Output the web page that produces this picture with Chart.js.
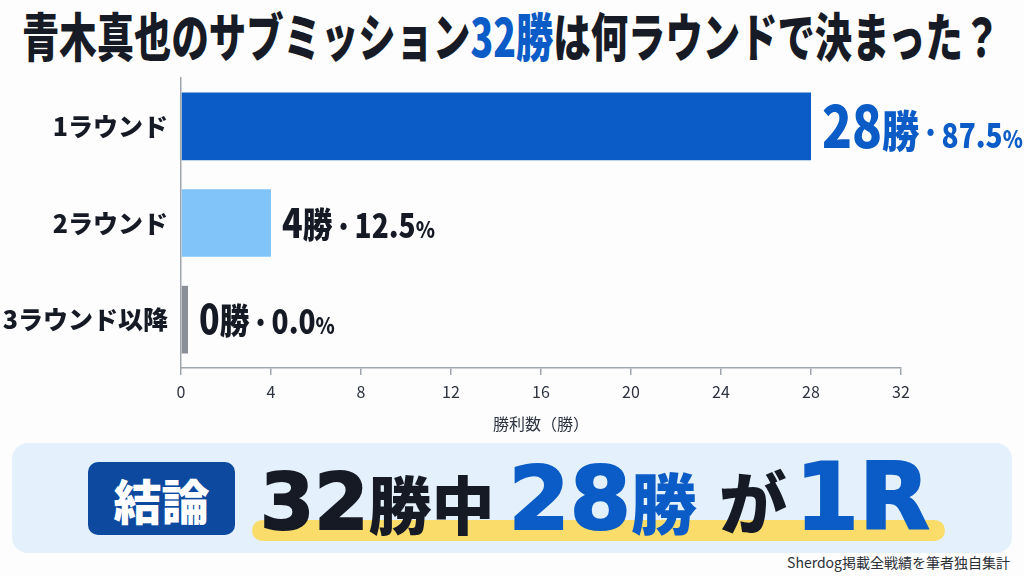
<!DOCTYPE html>
<html lang="ja">
<head>
<meta charset="utf-8">
<script src="https://cdn.jsdelivr.net/npm/chart.js@4.4.0/dist/chart.umd.min.js"></script>
<style>
  body { margin:0; width:1024px; height:576px; background:#fdfdfd; position:relative; overflow:hidden; font-family:"Noto Sans CJK JP", sans-serif; }
  #title { position:absolute; left:0; top:0; white-space:nowrap; display:flex; align-items:baseline; font-weight:900; font-size:52px; color:#161b26; transform-origin:0 0; }
  #title .blue { color:#0b5cc6; }
  #wrap { position:absolute; left:0; top:58px; width:1024px; height:382px; }
  #panel { position:absolute; left:12px; top:443px; width:1000px; height:110px; background:#e4f1fc; border-radius:16px; }
  #badge { position:absolute; left:88px; top:462px; width:147px; height:73px; background:#0d4a9f; border-radius:10px; color:#fff; font-weight:900; font-size:48px; display:flex; align-items:center; justify-content:center; }
  #hl { position:absolute; left:252px; top:520px; width:693px; height:21px; background:#f9dc6a; border-radius:11px; }
  #big { position:absolute; left:260px; top:0; white-space:nowrap; display:flex; align-items:baseline; color:#151a24; }
  #big .d { font-family:"DejaVu Sans", sans-serif; font-weight:700; -webkit-text-stroke:2px currentColor; }
  #big .j { font-weight:900; }
  #big .b { color:#0b5cc6; }
  .probe { display:inline-block; width:0; height:0; }
  #src { position:absolute; right:14px; top:552px; font-size:14px; color:#2b2f36; }
</style>
</head>
<body>
<div id="title">青木真也のサブミッション<span class="blue">32勝</span>は何ラウンドで決まった？<i class="probe" id="p1"></i></div>
<div id="wrap"><canvas id="roundChart"></canvas></div>
<div id="panel"></div>
<div id="badge">結論</div>
<div id="hl"></div>
<div id="big"><span class="d" style="font-size:78px">32</span><span class="j" style="font-size:63px">勝中</span><span class="d b" style="font-size:88px;margin-left:14px">28</span><span class="j b" style="font-size:66px">勝</span><span class="j" style="font-size:68px;margin-left:22px">が</span><span class="d b" style="font-size:92px;margin-left:8px">1R</span><i class="probe" id="p2"></i></div>
<div id="src">Sherdog掲載全戦績を筆者独自集計</div>

<script>
const rounds = ['1ラウンド', '2ラウンド', '3ラウンド以降'];
const wins = [28, 4, 0];
const totalWins = 32;
const barColors = ['#0b5cc6', '#80c4fa', '#8b9098'];
const xMax = 32;
const xStep = 4;

const jpFont = '"Noto Sans CJK JP", sans-serif';

// title: squeeze to the reference width, put baseline at y=57
const title = document.getElementById('title');
const tw = title.scrollWidth;
const p1 = document.getElementById('p1');
title.style.top = (57 - p1.offsetTop) + 'px';
title.style.left = '22px';
title.style.transform = 'scaleX(' + (978 / tw) + ')';

// conclusion line baseline at y=529
const big = document.getElementById('big');
const p2 = document.getElementById('p2');
big.style.top = (529 - p2.offsetTop) + 'px';

// value labels next to each bar: [text, size, raise]
const valueLabels = {
  id: 'valueLabels',
  afterDatasetsDraw(chart) {
    const ctx = chart.ctx;
    const meta = chart.getDatasetMeta(0);
    meta.data.forEach((bar, i) => {
      const w = wins[i];
      const pct = (w / totalWins * 100).toFixed(1);
      let parts, color;
      if (i == 0) {
        color = '#0b5cc6';
        parts = [[String(w), 58, 0], ['勝', 44, 0], ['・', 26, 6], [pct, 33, 0], ['%', 24, 0]];
      } else {
        color = '#151a24';
        parts = [[String(w), 40, 0], ['勝', 35, 0], ['・', 26, 2], [pct, 33, 0], ['%', 23, 0]];
      }
      ctx.save();
      ctx.translate(bar.x + 11, bar.y + parts[0][1] * 0.365);
      ctx.scale(0.85, 1);
      ctx.fillStyle = color;
      ctx.textBaseline = 'alphabetic';
      ctx.textAlign = 'left';
      let x = 0;
      parts.forEach(p => {
        ctx.font = '900 ' + p[1] + 'px ' + jpFont;
        ctx.fillText(p[0], x, -p[2]);
        x += ctx.measureText(p[0]).width;
      });
      ctx.restore();
    });
  }
};

new Chart('roundChart', {
  type: 'bar',
  data: {
    labels: rounds,
    datasets: [{
      data: wins,
      backgroundColor: barColors,
      categoryPercentage: 0.7,
      barPercentage: 1,
      minBarLength: 7
    }]
  },
  options: {
    indexAxis: 'y',
    responsive: true,
    maintainAspectRatio: false,
    animation: false,
    layout: { padding: { left: 0, right: 123, top: 8, bottom: 0 } },
    plugins: { legend: { display: false }, tooltip: { enabled: false } },
    scales: {
      x: {
        min: 0, max: xMax,
        ticks: { stepSize: xStep, color: '#2d3440', font: { family: jpFont, size: 16 }, padding: 7 },
        grid: { drawOnChartArea: false, drawTicks: true, tickLength: 7, color: '#a0a6ae', lineWidth: 1.5 },
        border: { color: '#a0a6ae', width: 1.5 },
        title: { display: true, text: '勝利数（勝）', color: '#2d3440', font: { family: jpFont, size: 16 }, padding: { top: 2, bottom: 6 } },
        afterFit(s) { s.height = 72; }
      },
      y: {
        ticks: { color: '#151a24', font: { family: jpFont, size: 25, weight: '900' }, padding: 5 },
        grid: { display: false },
        border: { color: '#a0a6ae', width: 1.5 },
        afterFit(s) { s.width = 181; }
      }
    }
  },
  plugins: [valueLabels]
});
</script>
</body>
</html>
